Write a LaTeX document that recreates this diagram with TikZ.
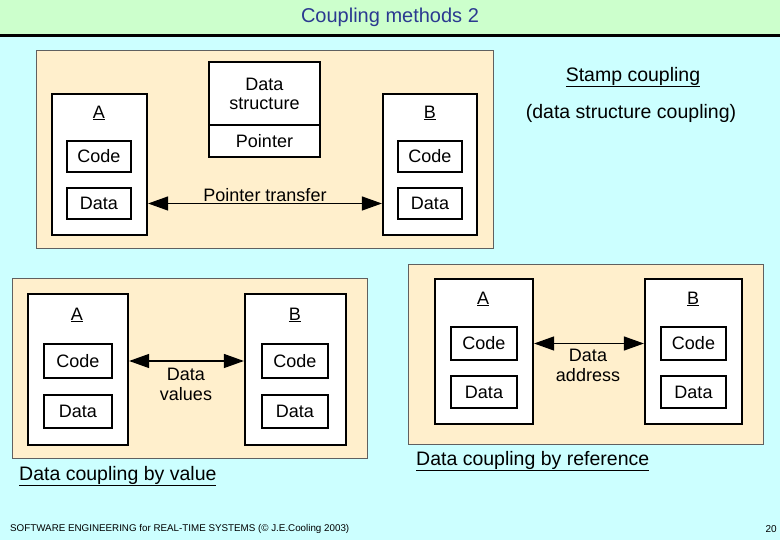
\documentclass[tikz,border=0pt]{standalone}
\usepackage{fontspec}
\setmainfont{Liberation Sans}
\usetikzlibrary{arrows.meta}
\definecolor{bgcyan}{HTML}{CCFFFF}
\definecolor{titlegreen}{HTML}{CCFFCC}
\definecolor{tan}{HTML}{FFEFCC}
\definecolor{titleblue}{HTML}{2B3990}
\tikzset{
  panel/.style={draw=gray!75!black, line width=0.8pt, fill=tan, inner sep=0pt},
  module/.style={draw=black, line width=1.2pt, fill=white, inner sep=0pt},
  part/.style={draw=black, line width=1.2pt, fill=white, inner sep=0pt, font=\fontsize{18}{20}\selectfont},
  lbl/.style={font=\fontsize{18}{21}\selectfont, align=center, inner sep=0pt},
  captxt/.style={font=\fontsize{19.5}{22}\selectfont, align=center, inner sep=0pt},
  link/.style={line width=1.2pt, {Triangle[length=20pt,width=14pt]}-{Triangle[length=20pt,width=14pt]}, shorten <=0.5pt, shorten >=0.5pt}
}
\begin{document}
\begin{tikzpicture}[x=1pt,y=-1pt]
\useasboundingbox (0,0) rectangle (780,540);
\fill[bgcyan] (0,0) rectangle (780,540);
\fill[titlegreen] (0,0) rectangle (780,35);
\draw[line width=2.2pt] (0,35.5) -- (780,35.5);
\node[font=\fontsize{20}{23}\selectfont, text=titleblue, inner sep=0pt] (title) at (390,17) {Coupling methods 2};

% ---------- Top panel: stamp coupling ----------
\node[panel, minimum width=457pt, minimum height=198pt] (p1) at (264.5,149) {};
\node[module, minimum width=95pt, minimum height=141pt] (A1) at (99.5,164.5) {};
\node[lbl] (A1l) at (99,113) {\underline{A}};
\node[part, minimum width=64pt, minimum height=31pt] (A1c) at (99,156.5) {Code};
\node[part, minimum width=64pt, minimum height=31pt] (A1d) at (99,203.5) {Data};
\node[module, minimum width=94pt, minimum height=141pt] (B1) at (430,164.5) {};
\node[lbl] (B1l) at (430,113) {\underline{B}};
\node[part, minimum width=64pt, minimum height=31pt] (B1c) at (430,156.5) {Code};
\node[part, minimum width=64pt, minimum height=31pt] (B1d) at (430,203.5) {Data};
\node[part, minimum width=111pt, minimum height=63pt, align=center] (DS) at (264.5,93.5) {Data\\[-1pt]structure};
\node[part, minimum width=111pt, minimum height=32pt] (Ptr) at (264.5,141) {Pointer};
\draw[link] (A1.east |- A1d.center) -- (B1.west |- A1d.center);
\node[lbl] (pt) at (265,195) {Pointer transfer};
\node[captxt] (stamp) at (633,77) {\underline{Stamp coupling}};
\node[captxt] (dsc) at (631,113) {(data structure coupling)};

% ---------- Bottom-left panel: by value ----------
\node[panel, minimum width=355pt, minimum height=180pt] (p2) at (189.5,368) {};
\node[module, minimum width=100pt, minimum height=151pt] (A2) at (78,369.5) {};
\node[lbl] (A2l) at (77,315) {\underline{A}};
\node[part, minimum width=68pt, minimum height=34pt] (A2c) at (78,361) {Code};
\node[part, minimum width=68pt, minimum height=33pt] (A2d) at (78,411.5) {Data};
\node[module, minimum width=101pt, minimum height=151pt] (B2) at (295.5,369.5) {};
\node[lbl] (B2l) at (295,315) {\underline{B}};
\node[part, minimum width=66pt, minimum height=34pt] (B2c) at (295,361) {Code};
\node[part, minimum width=66pt, minimum height=33pt] (B2d) at (295,411.5) {Data};
\draw[link] (A2.east |- A2c.center) -- (B2.west |- A2c.center);
\node[lbl] (dv) at (186,384) {Data\\[-1pt]values};
\node[captxt, anchor=west] (cv) at (19,476) {\underline{Data coupling by value}};

% ---------- Bottom-right panel: by reference ----------
\node[panel, minimum width=355pt, minimum height=180pt] (p3) at (585.5,354) {};
\node[module, minimum width=98pt, minimum height=145pt] (A3) at (484,351.5) {};
\node[lbl] (A3l) at (483,299) {\underline{A}};
\node[part, minimum width=66pt, minimum height=33pt] (A3c) at (484,343.5) {Code};
\node[part, minimum width=66pt, minimum height=32pt] (A3d) at (484,392) {Data};
\node[module, minimum width=97pt, minimum height=145pt] (B3) at (693.5,351.5) {};
\node[lbl] (B3l) at (693,299) {\underline{B}};
\node[part, minimum width=65pt, minimum height=33pt] (B3c) at (693.5,343.5) {Code};
\node[part, minimum width=65pt, minimum height=32pt] (B3d) at (693.5,392) {Data};
\draw[link] (A3.east |- A3c.center) -- (B3.west |- A3c.center);
\node[lbl] (da) at (588,365) {Data\\[-1pt]address};
\node[captxt, anchor=west] (cr) at (416,461) {\underline{Data coupling by reference}};

% ---------- Footer ----------
\node[anchor=west, inner sep=0pt, font=\fontsize{9.8}{11}\selectfont] (foot) at (10,529) {SOFTWARE ENGINEERING for REAL-TIME SYSTEMS (© J.E.Cooling 2003)};
\node[anchor=east, inner sep=0pt, font=\fontsize{10}{11}\selectfont] (pg) at (777,529) {20};
\end{tikzpicture}
\end{document}
